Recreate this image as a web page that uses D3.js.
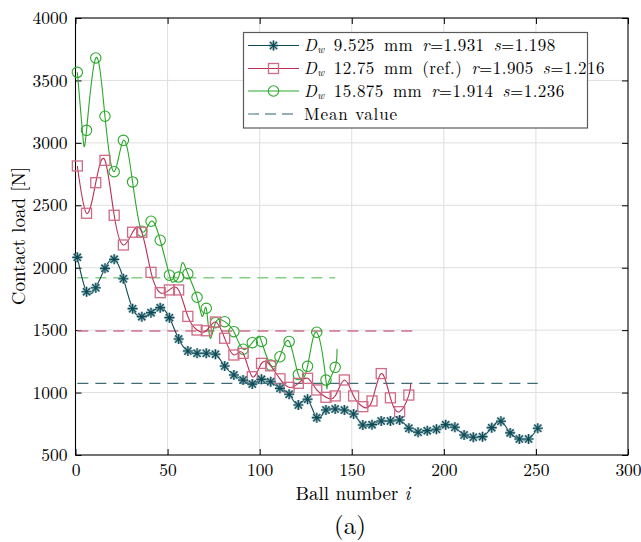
<!DOCTYPE html>
<html><head><meta charset="utf-8">
<script src="https://cdn.jsdelivr.net/npm/d3@7"></script>
<style>
body{margin:0;background:#fff;}
svg{display:block;}
text{font-family:"Latin Modern Roman","CMU Serif","Liberation Serif",serif;fill:#000;white-space:pre;}
</style></head>
<body>
<svg id="chart" width="641" height="542"></svg>
<script>
// ---- data ----
const markerStart = 1, markerStep = 5;
const blueLoad = [2083,1808,1840,1995,2067, 1912,1672,1608,1640,1680, 1600,1429,1333,1315,1315,
  1307,1213,1141,1100,1068, 1106,1087,1034,986,900, 946,799,860,868,860, 828,740,743,772,772,
  780,714,682,695,706, 743,722,660,642,647, 719,770,677,628,628, 714];
const redLoad = [2815,2436,2681,2860,2420, 2182,2284,2284,1963,1800, 1822,1822,1610,1501,1495,
  1565,1435,1301,1314,1127, 1234,1214,1110,1042,1074, 1114,1021,962,973,1101, 973,887,933,1152,958,
  847,980];
const greenLoad = [3565,3100,3680,3213,2769, 3020,2687,2292,2372,2220, 1940,1925,1952,1763,1675,
  1560,1568,1488,1347,1400, 1410,1220,1287,1410,1144, 1210,1483,1100,1202];
// extra line points between markers [ball, load]
const blueExtra = [];
const redExtra = [[182,1075]];
const greenExtra = [[4,3050],[53,1885],[58,2040],[69,1610],[73,1440],[99,1447],[137,1069],[142,1350]];
// mean values [value, lastBall]
const meanBlue = [1074, 251];
const meanRed = [1493, 183];
const meanGreen = [1920, 141];
const legendLabels = [
  {sym:"D", sub:"w", rest:" 9.525 mm ", r:"1.931", s:"1.198"},
  {sym:"D", sub:"w", rest:" 12.75 mm (ref.) ", r:"1.905", s:"1.216"},
  {sym:"D", sub:"w", rest:" 15.875 mm ", r:"1.914", s:"1.236"}
];
const xTicks = [0,50,100,150,200,250,300];
const yTicks = [500,1000,1500,2000,2500,3000,3500,4000];

// ---- layout ----
const L = 75.5, R = 628, T = 18, B = 455;
const x = d3.scaleLinear().domain([0,300]).range([L,R]);
const y = d3.scaleLinear().domain([500,4000]).range([B,T]);
const svg = d3.select("#chart");

const colBlue = "#0d4b57", colRed = "#b82f55", colGreen = "#2aa82a";

// grid
const grid = svg.append("g");
xTicks.slice(1,-1).forEach(t=>grid.append("line").attr("x1",x(t)).attr("x2",x(t)).attr("y1",T).attr("y2",B)
  .attr("stroke","#dedede").attr("stroke-width",1));
yTicks.slice(1,-1).forEach(t=>grid.append("line").attr("x1",L).attr("x2",R).attr("y1",y(t)).attr("y2",y(t))
  .attr("stroke","#dedede").attr("stroke-width",1));

// axes
const axB = d3.axisBottom(x).tickValues(xTicks).tickSize(-6).tickPadding(9).tickFormat(d3.format("d"));
const axT = d3.axisTop(x).tickValues(xTicks).tickSize(-6).tickFormat("");
const axLf = d3.axisLeft(y).tickValues(yTicks).tickSize(-6).tickPadding(8).tickFormat(d3.format("d"));
const axRt = d3.axisRight(y).tickValues(yTicks).tickSize(-6).tickFormat("");
function styleAx(g){g.select(".domain").remove();g.selectAll("line").attr("stroke","#000");
  g.selectAll("text").style("font-size","17.5px").attr("fill","#000");}
svg.append("g").attr("transform",`translate(0,${B})`).call(axB).call(styleAx);
svg.append("g").attr("transform",`translate(0,${T})`).call(axT).call(styleAx);
svg.append("g").attr("transform",`translate(${L},0)`).call(axLf).call(styleAx);
svg.append("g").attr("transform",`translate(${R},0)`).call(axRt).call(styleAx);
svg.append("rect").attr("x",L).attr("y",T).attr("width",R-L).attr("height",B-T)
  .attr("fill","none").attr("stroke","#000").attr("stroke-width",1.1);

// mean lines
function meanLine(m, col){
  svg.append("line").attr("x1",x(1)).attr("x2",x(m[1])).attr("y1",y(m[0])).attr("y2",y(m[0]))
    .attr("stroke",col).attr("stroke-width",1.4).attr("stroke-dasharray","11,7");
}
meanLine(meanGreen,"#84d084");
meanLine(meanRed,"#cc7189");
meanLine(meanBlue,"#3f6c76");

// series
function buildPts(loads, extra){
  const mk = loads.map((v,i)=>({b:markerStart+i*markerStep, v}));
  const all = mk.concat(extra.map(e=>({b:e[0],v:e[1]}))).sort((a,b)=>a.b-b.b);
  return {mk, all};
}
const line = d3.line().x(d=>x(d.b)).y(d=>y(d.v)).curve(d3.curveNatural);
const star = "M-5,0L5,0M0,-5L0,5M-3.6,-3.6L3.6,3.6M-3.6,3.6L3.6,-3.6";

function drawSeries(loads, extra, col, type){
  const p = buildPts(loads, extra);
  svg.append("path").datum(p.all).attr("d",line).attr("fill","none").attr("stroke",col).attr("stroke-width",1.1);
  const g = svg.append("g");
  p.mk.forEach(d=>drawMarker(g, x(d.b), y(d.v), type));
}
function drawMarker(g, cx, cy, type){
  if(type==="star"){
    g.append("path").attr("d",star).attr("transform",`translate(${cx},${cy})`)
      .attr("stroke","#7fa6ad").attr("stroke-width",2.6).attr("fill","none").attr("opacity",0.8);
    g.append("path").attr("d",star).attr("transform",`translate(${cx},${cy})`)
      .attr("stroke",colBlue).attr("stroke-width",1.1).attr("fill","none");
  } else if(type==="square"){
    g.append("rect").attr("x",cx-5).attr("y",cy-5).attr("width",10).attr("height",10)
      .attr("fill","none").attr("stroke","#d06a87").attr("stroke-width",1.3);
  } else {
    g.append("circle").attr("cx",cx).attr("cy",cy).attr("r",5.2)
      .attr("fill","none").attr("stroke",colGreen).attr("stroke-width",1.1);
  }
}
drawSeries(greenLoad, greenExtra, colGreen, "circle");
drawSeries(redLoad, redExtra, colRed, "square");
drawSeries(blueLoad, blueExtra, colBlue, "star");

// legend
const lg = svg.append("g");
lg.append("rect").attr("x",243.5).attr("y",32.5).attr("width",344).attr("height",95.5)
  .attr("fill","#fff").attr("stroke","#5a5a5a").attr("stroke-width",1.2);
const rowsY = [45.5, 68.5, 91, 114];
const cols = [colBlue, colRed, colGreen];
const types = ["star","square","circle"];
const fs = 17;
for(let k=0;k<3;k++){
  lg.append("line").attr("x1",248).attr("x2",299).attr("y1",rowsY[k]).attr("y2",rowsY[k])
    .attr("stroke",cols[k]).attr("stroke-width",1.1);
  drawMarker(lg, 273.5, rowsY[k], types[k]);
  const lb = legendLabels[k];
  const t = lg.append("text").attr("x",304).attr("y",rowsY[k]+5.5)
    .style("font-size",fs+"px").style("word-spacing","3px").style("letter-spacing","0.45px");
  t.append("tspan").style("font-style","italic").text(lb.sym);
  t.append("tspan").style("font-style","italic").style("font-size","10.5px").attr("dy",2).text(lb.sub);
  t.append("tspan").attr("dy",-2).text(lb.rest);
  t.append("tspan").style("font-style","italic").text("r");
  t.append("tspan").text("=" + lb.r + " ");
  t.append("tspan").style("font-style","italic").text("s");
  t.append("tspan").text("=" + lb.s);
}
lg.append("line").attr("x1",248).attr("x2",299).attr("y1",rowsY[3]).attr("y2",rowsY[3])
  .attr("stroke","#6f96a0").attr("stroke-width",1.3).attr("stroke-dasharray","11,6");
lg.append("text").attr("x",304).attr("y",rowsY[3]+5.5).style("font-size",fs+"px")
  .style("letter-spacing","0.9px").text("Mean value");

// axis titles
const xt = svg.append("text").attr("x",353).attr("y",500).attr("text-anchor","middle").style("font-size","19px");
xt.append("tspan").text("Ball number ");
xt.append("tspan").style("font-style","italic").text("i");
svg.append("text").attr("transform","translate(25,236) rotate(-90)").attr("text-anchor","middle")
  .style("font-size","19px").text("Contact load [N]");
svg.append("text").attr("x",350).attr("y",534).attr("text-anchor","middle").style("font-size","25px").text("(a)");
</script>
</body></html>
